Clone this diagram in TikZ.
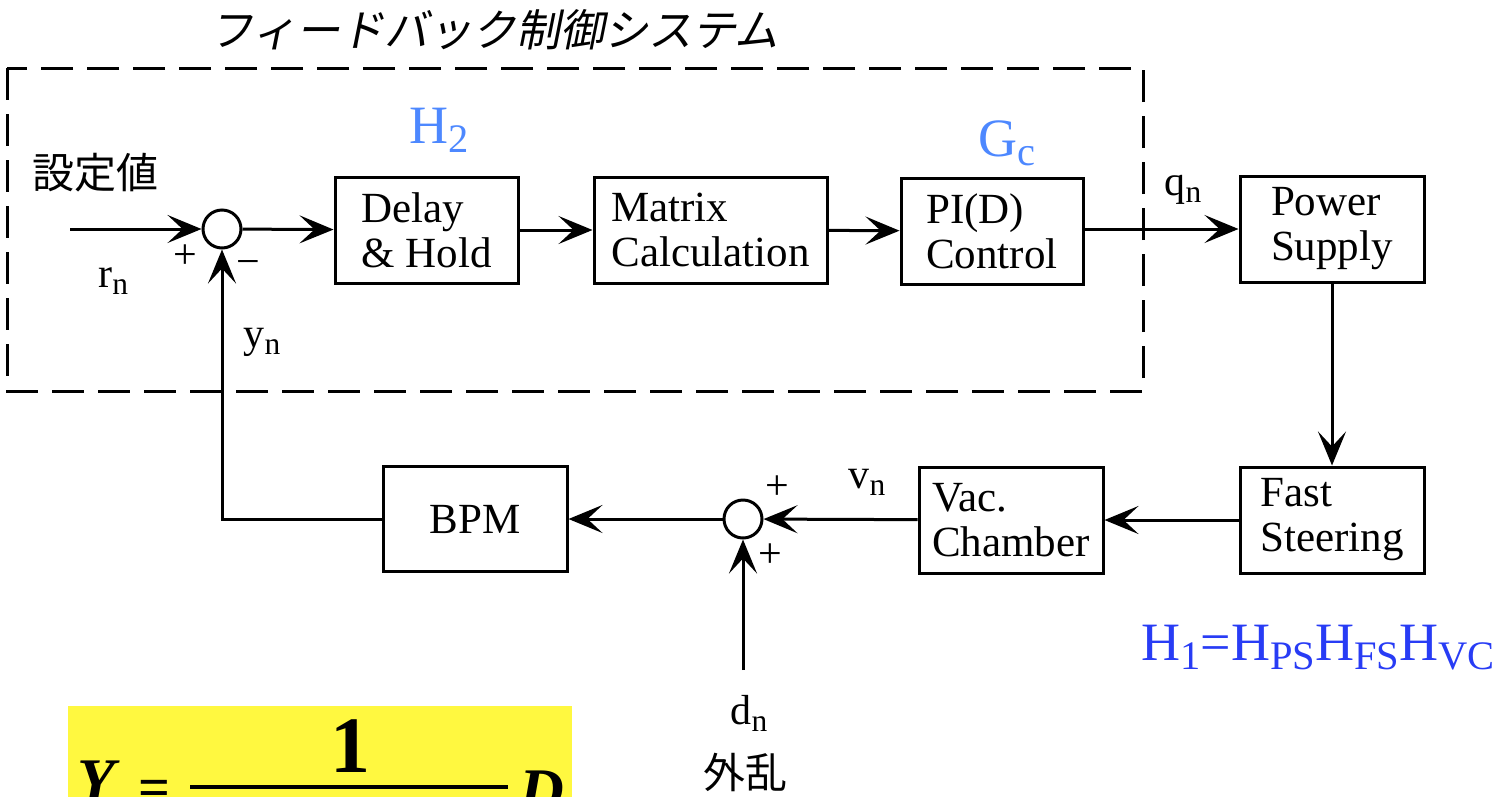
\documentclass[tikz,border=0pt]{standalone}
\usepackage{fontspec}
\setmainfont{Liberation Serif}
\newfontfamily\jp{Noto Sans CJK JP}
\newfontfamily\jpit[FakeSlant=0.2]{Noto Sans CJK JP}
\usetikzlibrary{arrows.meta}
\definecolor{hblue}{RGB}{77,136,255}
\definecolor{fblue}{RGB}{40,60,245}
\definecolor{hilite}{RGB}{255,248,64}
\newcommand{\lowsub}[1]{\raisebox{-0.4ex}{\scalebox{0.75}{#1}}}
\newcommand{\boxfont}{\fontsize{43}{45}\selectfont}
\newcommand{\lblfont}{\fontsize{42}{44}\selectfont}
\newcommand{\hfont}{\fontsize{54}{56}\selectfont}

\begin{document}
\begin{tikzpicture}[x=1pt,y=-1pt,line width=3pt,
    >={Stealth[length=34pt,width=28pt,inset=15pt]},
    blk/.style={draw,minimum height=106pt,minimum width=184pt,align=left,font=\boxfont,inner sep=0pt},
    sum/.style={draw,circle,minimum size=38pt,inner sep=0pt},
    lbl/.style={font=\lblfont,inner sep=0pt},
    tf/.style={font=\hfont,inner sep=0pt,anchor=base west}]
  \useasboundingbox (0,0) rectangle (1499,796);

  % feedback frame
  \node[font=\jpit\fontsize{44}{46}\selectfont,inner sep=0pt] (title) at (494,30) {フィードバック制御システム};
  \draw[dash pattern=on 32pt off 14pt] (7,68) rectangle (1143,391);

  % blocks
  \node[sum] (s1) at (222,229) {};
  \node[blk,minimum width=183pt] (dly) at (426.5,230) {Delay\\\& Hold};
  \node[blk,minimum width=233pt] (mat) at (710.5,230) {Matrix\\Calculation};
  \node[blk,minimum width=182pt] (pid) at (992,231) {PI(D)\\Control};
  \node[blk] (ps) at (1332,229) {Power\\Supply};
  \node[blk] (fs) at (1332,520) {Fast\\Steering};
  \node[blk] (vac) at (1011,520) {Vac.\\Chamber};
  \node[sum] (s2) at (743,519) {};
  \node[blk,align=center,minimum height=105pt] (bpm) at (475,519) {BPM};
  \coordinate (in) at (70,229);
  \coordinate (dist) at (743,670);

  % signals
  \draw[->] (in) -- (s1);
  \draw[->] (s1) -- (dly);
  \draw[->] (dly) -- (mat);
  \draw[->] (mat) -- (pid);
  \draw[->] (pid.east |- ps.west) -- (ps.west);
  \draw[->] (ps) -- (fs);
  \draw[->] (fs) -- (vac);
  \draw[->] (vac) -- (s2);
  \draw[->] (s2) -- (bpm);
  \draw[->] (dist) -- (s2);
  \draw[->] (bpm.west) -| (s1.south);

  % labels
  \node[font=\jp\fontsize{42}{44}\selectfont,inner sep=0pt] (setp) at (95,173) {設定値};
  \node[lbl,anchor=base west] (rn) at (97,287) {r\lowsub{n}};
  \node[lbl,anchor=base west] (yn) at (242,347) {y\lowsub{n}};
  \node[lbl,anchor=base west] (qn) at (1163,195) {q\lowsub{n}};
  \node[lbl,anchor=base west] (vn) at (847,488) {v\lowsub{n}};
  \node[lbl,anchor=base west] (dn) at (729,724) {d\lowsub{n}};
  \node[font=\jp\fontsize{42}{44}\selectfont,inner sep=0pt] (dlbl) at (745,772) {外乱};
  \node[lbl] (p1) at (185,257) {+};
  \node[lbl] (m1) at (248,268) {−};
  \node[lbl] (p2) at (777,488) {+};
  \node[lbl] (p3) at (770,556) {+};
  \node[tf,text=hblue] (h2) at (408,143) {H\lowsub{2}};
  \node[tf,text=hblue] (gc) at (977,156) {G\lowsub{c}};
  \node[tf,text=fblue] (h1) at (1140,660) {H\lowsub{1}=H\lowsub{PS}H\lowsub{FS}H\lowsub{VC}};

  % disturbance response
  \begin{scope}
    \clip (0,0) rectangle (1499,796);
    \fill[hilite] (68,706) rectangle (572,830);
    \node[font=\fontsize{62}{62}\selectfont\bfseries\itshape,inner sep=0pt,anchor=base west] (ylhs) at (76,801) {Y};
    \node[font=\fontsize{56}{56}\selectfont\bfseries,inner sep=0pt,anchor=base] (eq) at (154,806) {=};
    \node[font=\fontsize{80}{80}\selectfont\bfseries,inner sep=0pt,anchor=base] (one) at (350,772) {1};
    \node[font=\fontsize{62}{62}\selectfont\bfseries\itshape,inner sep=0pt,anchor=base west] (dd) at (518,811) {D};
    \draw[line width=4pt] (190,787) -- (508,787);
  \end{scope}
\end{tikzpicture}
\end{document}
